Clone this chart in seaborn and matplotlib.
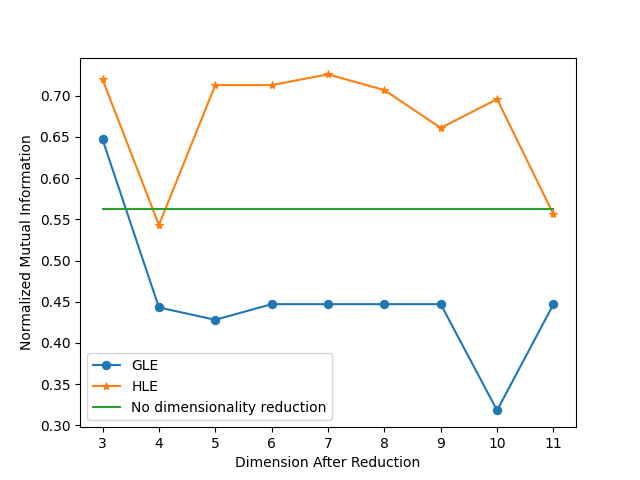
import matplotlib
matplotlib.use("Agg")
import matplotlib.pyplot as plt
import seaborn as sns
import pandas as pd

dims = [3, 4, 5, 6, 7, 8, 9, 10, 11]
gle = [0.647, 0.443, 0.428, 0.447, 0.447, 0.447, 0.447, 0.318, 0.447]
hle = [0.720, 0.543, 0.713, 0.713, 0.726, 0.707, 0.661, 0.696, 0.556]
baseline = [0.5625] * len(dims)

fig, ax = plt.subplots(figsize=(6.4, 4.8), dpi=100)
sns.lineplot(x=dims, y=gle, marker="o", markersize=6, markeredgecolor="#1f77b4", color="#1f77b4", label="GLE", ax=ax)
sns.lineplot(x=dims, y=hle, marker="*", markersize=6, markeredgecolor="#ff7f0e", color="#ff7f0e", label="HLE", ax=ax)
sns.lineplot(x=dims, y=baseline, color="#2ca02c", label="No dimensionality reduction", ax=ax)
ax.set_xlabel("Dimension After Reduction")
ax.set_ylabel("Normalized Mutual Information")
ax.set_xticks(dims)
ax.legend(loc="lower left")
fig.savefig("out.png")
